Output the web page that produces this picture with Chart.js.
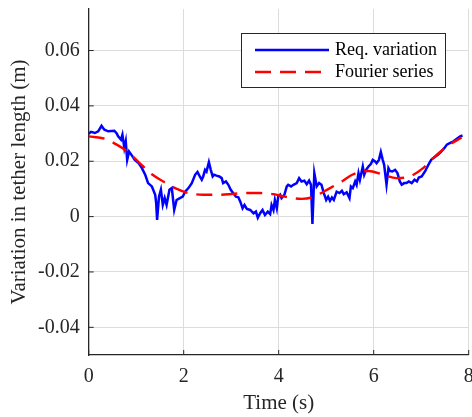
<!DOCTYPE html>
<html>
<head>
<meta charset="utf-8">
<script src="https://cdn.jsdelivr.net/npm/chart.js@4/dist/chart.umd.min.js"></script>
<style>
  html, body { margin: 0; padding: 0; background: #ffffff; }
  #wrap { position: relative; width: 472px; height: 417px; }
</style>
</head>
<body>
<div id="wrap"><canvas id="c" width="472" height="417"></canvas></div>
<script>
// ---- data ----
const timeReq = [0.0,0.05,0.13,0.2,0.27,0.33,0.41,0.54,0.59,0.62,0.68,0.71,0.75,0.78,0.81,0.85,0.9,0.97,1.05,1.12,1.19,1.25,1.33,1.4,1.42,1.44,1.48,1.52,1.56,1.6,1.64,1.7,1.75,1.8,1.85,1.92,1.98,2.03,2.1,2.17,2.24,2.29,2.33,2.38,2.41,2.45,2.48,2.53,2.57,2.61,2.64,2.69,2.75,2.8,2.83,2.89,2.94,2.99,3.04,3.1,3.15,3.19,3.24,3.28,3.33,3.4,3.47,3.52,3.56,3.61,3.66,3.71,3.77,3.82,3.85,3.89,3.92,3.96,3.99,4.03,4.06,4.12,4.17,4.2,4.26,4.31,4.38,4.43,4.48,4.54,4.59,4.64,4.68,4.71,4.75,4.8,4.85,4.9,4.95,5.0,5.04,5.08,5.12,5.16,5.22,5.28,5.33,5.37,5.43,5.49,5.52,5.56,5.61,5.64,5.68,5.71,5.77,5.8,5.84,5.89,5.94,5.98,6.03,6.06,6.11,6.15,6.19,6.22,6.27,6.31,6.34,6.39,6.45,6.5,6.55,6.59,6.64,6.69,6.74,6.8,6.86,6.91,6.95,7.01,7.08,7.15,7.21,7.28,7.35,7.42,7.49,7.54,7.61,7.68,7.75,7.82,7.87];
const reqVariation = [0.0299,0.0306,0.0302,0.0308,0.0328,0.0314,0.0308,0.031,0.030,0.029,0.0278,0.0296,0.0248,0.0272,0.0205,0.0235,0.0223,0.0205,0.0193,0.0175,0.0151,0.0121,0.0109,0.0079,0.005,-0.0012,0.0072,0.0097,0.0042,0.0067,0.0042,0.0097,0.0103,0.0024,0.006,0.0067,0.0072,0.009,0.0103,0.0121,0.0151,0.0161,0.0148,0.0133,0.0145,0.0169,0.0163,0.0197,0.0169,0.0145,0.0151,0.0148,0.0145,0.0139,0.0121,0.0127,0.0115,0.0097,0.0085,0.0072,0.007,0.0055,0.003,0.0042,0.0028,0.0024,0.0012,0.0018,-0.0004,0.0012,0.0024,0.0006,0.0018,0.0009,0.0042,0.0024,0.006,0.003,0.0072,0.0079,0.0067,0.0079,0.0109,0.0115,0.0109,0.0115,0.0121,0.0139,0.0127,0.013,0.0117,0.013,0.0115,-0.0027,0.0157,0.0109,0.0121,0.0115,0.0085,0.006,0.0072,0.0057,0.0069,0.006,0.009,0.0085,0.0093,0.0081,0.0088,0.0067,0.0109,0.0103,0.0127,0.0115,0.0157,0.0133,0.0181,0.0151,0.0169,0.0181,0.019,0.0205,0.0199,0.0193,0.0205,0.0233,0.0205,0.0187,0.0115,0.0175,0.0165,0.0163,0.0169,0.0157,0.0127,0.0115,0.0121,0.0121,0.0127,0.0121,0.0133,0.0127,0.0141,0.0145,0.0163,0.0187,0.0205,0.0214,0.0223,0.0235,0.0248,0.026,0.0266,0.0272,0.0281,0.029,0.0293];
const timeFourier = [0,0.34,0.59,0.83,1.04,1.33,1.57,1.82,2.1,2.41,2.73,3.04,3.29,3.61,3.89,4.13,4.48,4.69,5.08,5.33,5.57,5.89,6.2,6.48,6.76,7.04,7.25,7.54,7.85];
const fourierSeries = [0.029,0.0281,0.026,0.0233,0.0199,0.0153,0.0127,0.0103,0.0085,0.0079,0.0079,0.0082,0.0085,0.0085,0.0081,0.0072,0.0064,0.0069,0.0103,0.0127,0.0153,0.0165,0.0151,0.0139,0.0145,0.0175,0.0211,0.0253,0.0286];
const seriesNames = ['Req. variation', 'Fourier series'];
const xTicks = [0, 2, 4, 6, 8];
const xTickLabels = ['0', '2', '4', '6', '8'];
const yTicks = [-0.04, -0.02, 0, 0.02, 0.04, 0.06];
const yTickLabels = ['-0.04', '-0.02', '0', '0.02', '0.04', '0.06'];
const xTitle = 'Time (s)';
const yTitle = 'Variation in tether length (m)';

const FONT = "'Liberation Serif', 'Times New Roman', serif";
const AX = '#262626';
const GRID = '#dcdcdc';
const BLUE = '#0000ff';
const RED = '#ff0000';
const DASH = [16, 9];

const toXY = (xs, ys) => xs.map((x, i) => ({x: x, y: ys[i]}));

const inwardTicks = {
  id: 'inwardTicks',
  afterDatasetsDraw(chart) {
    const {ctx, chartArea: a, scales: {x, y}} = chart;
    ctx.save();
    ctx.strokeStyle = AX;
    ctx.lineWidth = 1;
    xTicks.forEach(v => {
      const px = x.getPixelForValue(v);
      ctx.beginPath(); ctx.moveTo(px, a.bottom); ctx.lineTo(px, a.bottom - 5); ctx.stroke();
    });
    yTicks.forEach(v => {
      const py = y.getPixelForValue(v);
      ctx.beginPath(); ctx.moveTo(a.left, py); ctx.lineTo(a.left + 5, py); ctx.stroke();
    });
    ctx.restore();
  }
};

const boxLegend = {
  id: 'boxLegend',
  afterDraw(chart) {
    const ctx = chart.ctx;
    const bx = 241, by = 33, bw = 204, bh = 54;
    ctx.save();
    ctx.fillStyle = '#ffffff';
    ctx.fillRect(bx, by, bw, bh);
    ctx.strokeStyle = AX;
    ctx.lineWidth = 1;
    ctx.strokeRect(bx + 0.5, by + 0.5, bw, bh);
    const rows = [
      {y: 50, color: BLUE, dash: [], text: seriesNames[0]},
      {y: 72, color: RED, dash: DASH, text: seriesNames[1]}
    ];
    rows.forEach(r => {
      ctx.beginPath();
      ctx.setLineDash(r.dash);
      ctx.strokeStyle = r.color;
      ctx.lineWidth = 2.4;
      ctx.moveTo(255, r.y); ctx.lineTo(329, r.y);
      ctx.stroke();
      ctx.setLineDash([]);
      ctx.fillStyle = '#000000';
      ctx.font = '18px ' + FONT;
      ctx.textBaseline = 'middle';
      ctx.textAlign = 'left';
      ctx.fillText(r.text, 335, r.y + 0.6);
    });
    ctx.restore();
  }
};

new Chart(document.getElementById('c'), {
  type: 'scatter',
  data: {
    datasets: [
      {
        label: seriesNames[0],
        data: toXY(timeReq, reqVariation),
        showLine: true,
        borderColor: BLUE,
        borderWidth: 2.5,
        pointRadius: 0,
        tension: 0,
        order: 1
      },
      {
        label: seriesNames[1],
        data: toXY(timeFourier, fourierSeries),
        showLine: true,
        borderColor: RED,
        borderWidth: 2.4,
        borderDash: DASH,
        pointRadius: 0,
        tension: 0.4,
        cubicInterpolationMode: 'monotone',
        order: 0
      }
    ]
  },
  options: {
    responsive: false,
    animation: false,
    devicePixelRatio: 1,
    layout: {padding: {left: 0, right: 3.3, top: 9, bottom: 0}},
    plugins: {legend: {display: false}, tooltip: {enabled: false}},
    scales: {
      x: {
        type: 'linear',
        min: 0, max: 8,
        afterBuildTicks: s => { s.ticks = xTicks.map(v => ({value: v})); },
        afterFit: s => { s.height = 62; s.paddingLeft = 0; s.paddingRight = 0; },
        grid: {color: GRID, lineWidth: 1, drawTicks: false},
        border: {display: true, color: AX, width: 1.3},
        ticks: {
          padding: 10,
          color: AX,
          font: {family: FONT, size: 20},
          maxRotation: 0,
          callback: v => { const i = xTicks.indexOf(v); return i >= 0 ? xTickLabels[i] : ''; }
        },
        title: {display: true, text: xTitle, color: AX, font: {family: FONT, size: 21}, padding: {top: 0, bottom: 1}}
      },
      y: {
        type: 'linear',
        min: -0.05, max: 0.075,
        afterBuildTicks: s => { s.ticks = yTicks.map(v => ({value: v})); },
        afterFit: s => { s.width = 88.7; s.paddingTop = 0; s.paddingBottom = 0; },
        grid: {color: GRID, lineWidth: 1, drawTicks: false},
        border: {display: true, color: AX, width: 1.3},
        ticks: {
          padding: 9,
          color: AX,
          font: {family: FONT, size: 20},
          callback: v => { const i = yTicks.findIndex(t => Math.abs(t - v) < 1e-9); return i >= 0 ? yTickLabels[i] : ''; }
        },
        title: {display: true, text: yTitle, color: AX, font: {family: FONT, size: 21}, padding: {top: 7, bottom: 0}}
      }
    }
  },
  plugins: [inwardTicks, boxLegend]
});
</script>
</body>
</html>
